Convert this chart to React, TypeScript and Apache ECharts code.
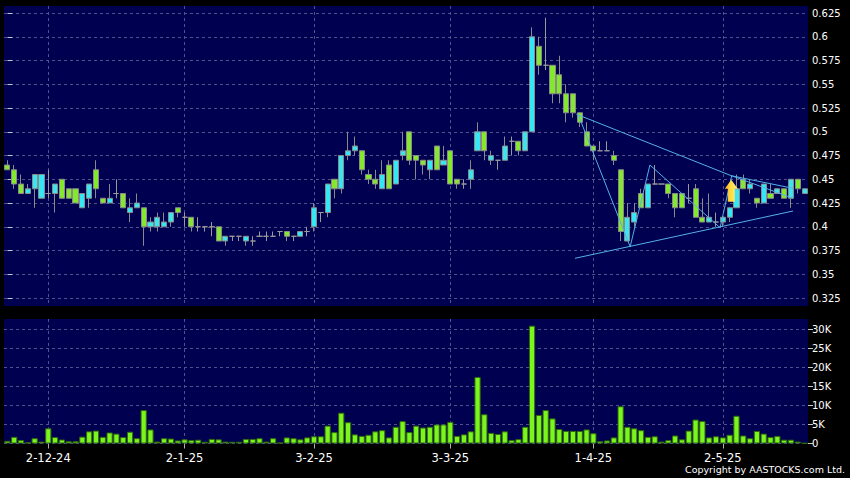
import React, { useEffect, useRef } from "react";
import * as echarts from "echarts";

// Trading days (d-m-yy)
const dates: string[] = [
  "22-11-24", "25-11-24", "26-11-24", "27-11-24", "28-11-24", "29-11-24",
  "2-12-24", "3-12-24", "4-12-24", "5-12-24", "6-12-24", "9-12-24", "10-12-24", "11-12-24", "12-12-24", "13-12-24",
  "16-12-24", "17-12-24", "18-12-24", "19-12-24", "20-12-24", "23-12-24", "24-12-24", "27-12-24", "30-12-24", "31-12-24",
  "2-1-25", "3-1-25", "6-1-25", "7-1-25", "8-1-25", "9-1-25", "10-1-25", "13-1-25", "14-1-25", "15-1-25",
  "16-1-25", "17-1-25", "20-1-25", "21-1-25", "22-1-25", "23-1-25", "24-1-25", "27-1-25", "28-1-25",
  "3-2-25", "4-2-25", "5-2-25", "6-2-25", "7-2-25", "10-2-25", "11-2-25", "12-2-25", "13-2-25", "14-2-25",
  "17-2-25", "18-2-25", "19-2-25", "20-2-25", "21-2-25", "24-2-25", "25-2-25", "26-2-25", "27-2-25", "28-2-25",
  "3-3-25", "4-3-25", "5-3-25", "6-3-25", "7-3-25", "10-3-25", "11-3-25", "12-3-25", "13-3-25", "14-3-25",
  "17-3-25", "18-3-25", "19-3-25", "20-3-25", "21-3-25", "24-3-25", "25-3-25", "26-3-25", "27-3-25", "28-3-25", "31-3-25",
  "1-4-25", "2-4-25", "3-4-25", "7-4-25", "8-4-25", "9-4-25", "10-4-25", "11-4-25", "14-4-25", "15-4-25",
  "16-4-25", "17-4-25", "22-4-25", "23-4-25", "24-4-25", "25-4-25", "28-4-25", "29-4-25", "30-4-25",
  "2-5-25", "6-5-25", "7-5-25", "8-5-25", "9-5-25", "12-5-25", "13-5-25", "14-5-25", "15-5-25", "16-5-25",
  "19-5-25", "20-5-25", "21-5-25",
];

const opens: number[] = [
  0.465, 0.46, 0.445, 0.435, 0.44, 0.43, 0.435, 0.435, 0.45, 0.44,
  0.44, 0.42, 0.43, 0.46, 0.43, 0.425, 0.435, 0.435, 0.415, 0.42,
  0.42, 0.40, 0.40, 0.40, 0.405, 0.42, 0.41, 0.41, 0.40, 0.40,
  0.40, 0.40, 0.385, 0.39, 0.39, 0.385, 0.385, 0.39, 0.39, 0.39,
  0.395, 0.395, 0.39, 0.39, 0.395, 0.40, 0.415, 0.415, 0.45, 0.44,
  0.475, 0.48, 0.48, 0.455, 0.45, 0.44, 0.465, 0.445, 0.475, 0.50,
  0.475, 0.47, 0.46, 0.485, 0.465, 0.48, 0.45, 0.445, 0.45, 0.48,
  0.50, 0.47, 0.47, 0.47, 0.49, 0.49, 0.48, 0.50, 0.59, 0.57,
  0.57, 0.56, 0.54, 0.54, 0.52, 0.50, 0.485, 0.48, 0.48, 0.475,
  0.46, 0.385, 0.405, 0.435, 0.42, 0.445, 0.445, 0.445, 0.435, 0.435,
  0.43, 0.44, 0.41, 0.405, 0.405, 0.405, 0.41, 0.42, 0.45, 0.44,
  0.43, 0.425, 0.435, 0.435, 0.44, 0.43, 0.45, 0.435,
];
const closes: number[] = [
  0.46, 0.445, 0.435, 0.44, 0.455, 0.455, 0.435, 0.445, 0.43, 0.43,
  0.425, 0.435, 0.445, 0.44, 0.425, 0.43, 0.435, 0.42, 0.42, 0.425,
  0.40, 0.405, 0.41, 0.405, 0.415, 0.415, 0.41, 0.40, 0.40, 0.40,
  0.40, 0.385, 0.39, 0.39, 0.39, 0.39, 0.385, 0.39, 0.39, 0.39,
  0.395, 0.39, 0.39, 0.395, 0.395, 0.42, 0.415, 0.445, 0.44, 0.475,
  0.48, 0.485, 0.46, 0.45, 0.445, 0.455, 0.44, 0.47, 0.48, 0.47,
  0.47, 0.465, 0.47, 0.46, 0.47, 0.445, 0.445, 0.445, 0.46, 0.50,
  0.48, 0.475, 0.47, 0.485, 0.49, 0.48, 0.50, 0.60, 0.57, 0.57,
  0.54, 0.54, 0.52, 0.52, 0.51, 0.485, 0.48, 0.48, 0.48, 0.47,
  0.395, 0.41, 0.415, 0.42, 0.445, 0.445, 0.445, 0.435, 0.42, 0.42,
  0.43, 0.41, 0.405, 0.41, 0.405, 0.41, 0.42, 0.44, 0.44, 0.445,
  0.425, 0.445, 0.43, 0.44, 0.43, 0.45, 0.44, 0.44,
];
const lows: number[] = [
  0.46, 0.44, 0.435, 0.435, 0.42, 0.43, 0.43, 0.415, 0.43, 0.43,
  0.425, 0.42, 0.42, 0.43, 0.425, 0.425, 0.43, 0.42, 0.405, 0.42,
  0.38, 0.395, 0.395, 0.40, 0.40, 0.41, 0.40, 0.395, 0.395, 0.395,
  0.39, 0.385, 0.38, 0.385, 0.385, 0.38, 0.38, 0.39, 0.385, 0.39,
  0.39, 0.385, 0.385, 0.39, 0.39, 0.395, 0.405, 0.41, 0.43, 0.435,
  0.47, 0.475, 0.455, 0.445, 0.44, 0.44, 0.44, 0.445, 0.47, 0.465,
  0.45, 0.455, 0.45, 0.46, 0.465, 0.445, 0.44, 0.44, 0.44, 0.48,
  0.47, 0.465, 0.46, 0.47, 0.475, 0.475, 0.48, 0.50, 0.56, 0.565,
  0.53, 0.53, 0.51, 0.515, 0.505, 0.485, 0.47, 0.48, 0.48, 0.465,
  0.385, 0.385, 0.40, 0.42, 0.42, 0.445, 0.445, 0.43, 0.41, 0.42,
  0.425, 0.41, 0.405, 0.405, 0.40, 0.40, 0.405, 0.42, 0.44, 0.435,
  0.42, 0.425, 0.43, 0.435, 0.43, 0.42, 0.435, 0.435,
];
const highs: number[] = [
  0.47, 0.465, 0.455, 0.445, 0.455, 0.455, 0.46, 0.445, 0.45, 0.44,
  0.44, 0.435, 0.445, 0.47, 0.43, 0.445, 0.45, 0.435, 0.43, 0.435,
  0.42, 0.41, 0.415, 0.415, 0.415, 0.42, 0.415, 0.41, 0.41, 0.40,
  0.405, 0.40, 0.39, 0.39, 0.39, 0.39, 0.39, 0.395, 0.395, 0.395,
  0.395, 0.395, 0.39, 0.395, 0.40, 0.425, 0.415, 0.445, 0.45, 0.475,
  0.50, 0.495, 0.48, 0.46, 0.46, 0.47, 0.47, 0.47, 0.50, 0.50,
  0.475, 0.47, 0.47, 0.485, 0.485, 0.48, 0.45, 0.45, 0.47, 0.51,
  0.50, 0.48, 0.47, 0.495, 0.495, 0.49, 0.50, 0.61, 0.60, 0.62,
  0.57, 0.58, 0.55, 0.54, 0.52, 0.51, 0.485, 0.49, 0.49, 0.48,
  0.46, 0.425, 0.425, 0.44, 0.445, 0.465, 0.445, 0.445, 0.435, 0.435,
  0.445, 0.445, 0.43, 0.435, 0.415, 0.41, 0.42, 0.455, 0.455, 0.45,
  0.43, 0.445, 0.445, 0.44, 0.44, 0.45, 0.45, 0.44,
];
const volumes: number[] = [
  700, 1750, 900, 300, 1400, 500, 4000, 1700, 1050, 600,
  600, 1800, 3200, 3400, 1750, 2900, 2600, 1700, 3100, 1400,
  8800, 3700, 500, 1400, 1300, 800, 1100, 900, 1000, 450,
  1200, 1100, 500, 450, 450, 1200, 1200, 1400, 500, 1400,
  250, 1600, 1400, 1100, 1600, 1900, 1900, 4700, 3000, 8100,
  5600, 2400, 2000, 2300, 3200, 3500, 1600, 4400, 5900, 3000,
  4700, 4200, 4400, 5000, 5000, 5700, 2000, 2400, 3200, 17500,
  7700, 2800, 2500, 3200, 900, 1150, 4400, 31000, 7500, 8800,
  6600, 3800, 3300, 3300, 3300, 3700, 2700, 600, 800, 1600,
  9800, 4400, 4000, 3500, 1750, 1900, 500, 900, 2100, 1100,
  3400, 6300, 5900, 1600, 1900, 1600, 2300, 7300, 2100, 1400,
  3300, 2600, 1700, 2000, 1000, 1000, 500, 100,
];

const priceTicks: number[] = [0.325, 0.35, 0.375, 0.4, 0.425, 0.45, 0.475, 0.5, 0.525, 0.55, 0.575, 0.6, 0.625];
const volumeTicks: number[] = [0, 5000, 10000, 15000, 20000, 25000, 30000];

// Drawn trend lines, in [day index, price]
const upperTrend: number[][] = [[83.5, 0.5185], [106.25, 0.4537]];
const upperTrend2: number[][] = [[106.25, 0.4537], [115.3, 0.4405]];
const zigzag: number[][] = [[83.8, 0.5176], [91.4, 0.379], [94.3, 0.465], [104.6, 0.399], [106.3, 0.4537], [115.3, 0.43]];
const lowerTrend: number[][] = [[83.3, 0.3668], [115.3, 0.4166]];
const signalArrow: number[][] = [[106.24, 0.4379]];

const monthOf = (d: string) => d.split("-")[1];
const isLabel = (i: number) => i > 0 && monthOf(dates[i]) !== monthOf(dates[i - 1]);

export default function App() {
  const ref = useRef<HTMLDivElement>(null);
  useEffect(() => {
    if (!ref.current) return;
    const chart = echarts.init(ref.current, undefined, { renderer: "svg" });
    const gridLine = { show: true, lineStyle: { color: "#50508c", type: [3, 3] as any, width: 1 } };
    const font = "DejaVu Sans";
    const candleData = opens.map((o, i) => [o, closes[i], lows[i], highs[i]]);
    const trendStyle = { color: "#55b0e6", width: 1 };
    const lineSeries = (data: number[][]) => ({
      type: "line",
      xAxisIndex: 2,
      yAxisIndex: 0,
      data,
      symbol: "none",
      silent: true,
      lineStyle: trendStyle,
      z: 5,
    });
    chart.setOption({
      animation: false,
      backgroundColor: "#000000",
      textStyle: { fontFamily: font },
      grid: [
        { left: 4, right: 42, top: 6, bottom: 172, show: true, backgroundColor: "#000050", borderWidth: 0 },
        { left: 4, right: 42, top: 319, bottom: 34.5, show: true, backgroundColor: "#000050", borderWidth: 0 },
      ],
      xAxis: [
        {
          type: "category",
          gridIndex: 0,
          data: dates,
          axisLine: { show: false },
          axisTick: { show: false },
          axisLabel: { show: false },
          splitLine: { ...gridLine, interval: (i: number) => isLabel(i), alignWithLabel: true },
        },
        {
          type: "category",
          gridIndex: 1,
          data: dates,
          axisLine: { show: false },
          axisTick: {
            show: true,
            interval: (i: number) => isLabel(i),
            alignWithLabel: true,
            length: 5,
            lineStyle: { color: "#b0b0b0" },
          },
          axisLabel: {
            interval: (i: number) => isLabel(i),
            color: "#ffffff",
            fontSize: 11.5,
            fontFamily: font,
            margin: 8,
          },
          splitLine: { ...gridLine, interval: (i: number) => isLabel(i), alignWithLabel: true },
        },
        { type: "value", gridIndex: 0, min: -0.5, max: dates.length - 0.5, show: false },
      ],
      yAxis: [
        {
          type: "value",
          gridIndex: 0,
          position: "right",
          min: 0.3166,
          max: 0.6324,
          axisLine: { show: false },
          axisTick: { show: true, customValues: priceTicks, length: 5, lineStyle: { color: "#c8c8c8" } },
          axisLabel: {
            customValues: priceTicks,
            color: "#ffffff",
            fontSize: 10,
            fontFamily: font,
            margin: 4,
            formatter: (v: number) => String(parseFloat(v.toFixed(3))),
          },
          splitLine: gridLine,
        },
        {
          type: "value",
          gridIndex: 1,
          position: "right",
          min: 0,
          max: 32760,
          axisLine: { show: false },
          axisTick: { show: true, customValues: volumeTicks, length: 5, lineStyle: { color: "#c8c8c8" } },
          axisLabel: {
            customValues: volumeTicks,
            color: "#ffffff",
            fontSize: 10,
            fontFamily: font,
            margin: 4,
            formatter: (v: number) => (v === 0 ? "0" : v / 1000 + "K"),
          },
          splitLine: gridLine,
        },
      ],
      series: [
        {
          type: "candlestick",
          xAxisIndex: 0,
          yAxisIndex: 0,
          data: candleData,
          barWidth: 5.6,
          itemStyle: {
            color: "#36e6f2",
            color0: "#84e82e",
            borderColor: "#8a8a8a",
            borderColor0: "#8a8a8a",
            borderColorDoji: "#9a9a9a",
            borderWidth: 1,
          },
        },
        {
          type: "bar",
          xAxisIndex: 1,
          yAxisIndex: 1,
          data: volumes,
          barWidth: 6.2,
          itemStyle: { color: "#7cf51e", borderColor: "#2f6a0c", borderWidth: 1 },
        },
        lineSeries(upperTrend),
        lineSeries(upperTrend2),
        lineSeries(zigzag),
        lineSeries(lowerTrend),
        {
          type: "scatter",
          xAxisIndex: 2,
          yAxisIndex: 0,
          data: signalArrow,
          symbol: "path://M6.5,0 L13,9 L10,9 L10,22 L3,22 L3,9 L0,9 Z",
          symbolSize: [13, 22],
          silent: true,
          z: 6,
          itemStyle: {
            opacity: 1,
            color: new echarts.graphic.LinearGradient(0, 0, 1, 0, [
              { offset: 0, color: "#f5a623" },
              { offset: 0.4, color: "#ffd83a" },
              { offset: 1, color: "#fff08a" },
            ]),
          },
        },
      ],
      graphic: [
        {
          type: "text",
          right: 5,
          top: 464,
          style: { text: "Copyright by AASTOCKS.com Ltd.", fill: "#ffffff", font: `9.5px "${font}"` },
        },
      ],
    });
    return () => chart.dispose();
  }, []);
  return (
    <div style={{ position: "fixed", left: 0, top: 0, width: 850, height: 478, background: "#000" }}>
      <div ref={ref} style={{ width: 850, height: 478 }} />
    </div>
  );
}
